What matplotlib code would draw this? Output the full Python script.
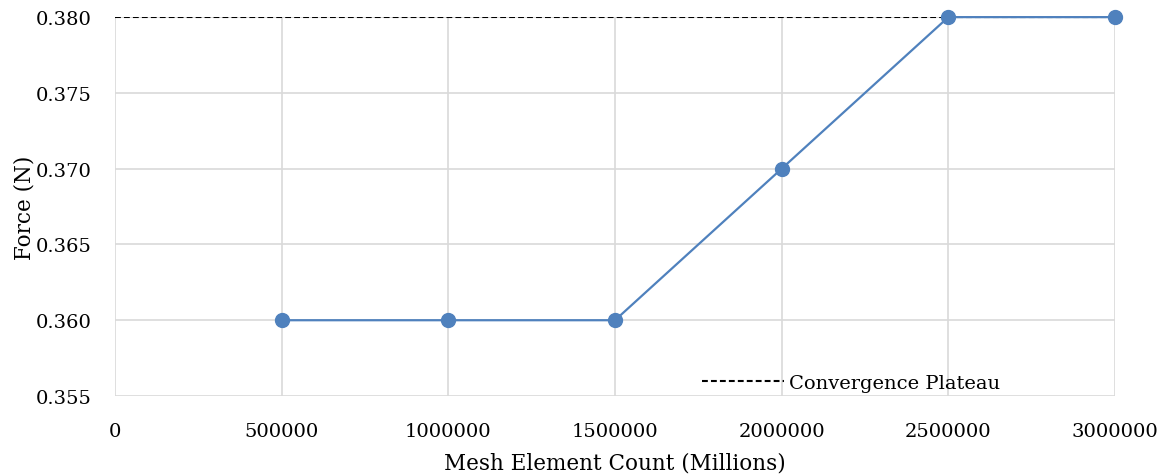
import matplotlib.pyplot as plt
import numpy as np

mesh_count = [500000, 1000000, 1500000, 2000000, 2500000, 3000000]
force = [0.360, 0.360, 0.360, 0.370, 0.380, 0.380]
plateau_x = [0, 3000000]
plateau_y = [0.380, 0.380]

plt.rcParams['font.family'] = ['DejaVu Serif']

fig = plt.figure(figsize=(11.7, 4.77), dpi=100)
ax = fig.add_axes([0.0983, 0.1677, 0.8547, 0.7943])

ax.plot(plateau_x, plateau_y, color='black', linestyle='--', linewidth=1.5,
        dashes=(2.8, 1.5), label='Convergence Plateau', zorder=2)
ax.plot(mesh_count, force, color='#4f81bd', linewidth=1.6, marker='o',
        markersize=10, zorder=3, clip_on=False)

ax.set_xlim(0, 3000000)
ax.set_ylim(0.355, 0.380)
ax.set_xticks(np.arange(0, 3000001, 500000))
ax.set_yticks(np.arange(0.355, 0.3801, 0.005))
ax.set_yticklabels(['%.3f' % v for v in np.arange(0.355, 0.3801, 0.005)])
ax.set_xticklabels([str(int(v)) for v in np.arange(0, 3000001, 500000)])
ax.grid(True, color='#d9d9d9', linewidth=1.2)
ax.set_axisbelow(True)
for s in ax.spines.values():
    s.set_visible(False)
ax.tick_params(length=0, labelsize=14)
ax.tick_params(axis='x', pad=19)
ax.tick_params(axis='y', pad=17)

ax.set_xlabel('Mesh Element Count (Millions)', fontsize=15.5, labelpad=8)
ax.set_ylabel('Force (N)', fontsize=15.5, labelpad=0)

ax.legend(loc='lower right', bbox_to_anchor=(0.903, -0.035), frameon=False,
          fontsize=14, handlelength=4.2, handletextpad=0.3)

plt.savefig('out.png', dpi=100)
